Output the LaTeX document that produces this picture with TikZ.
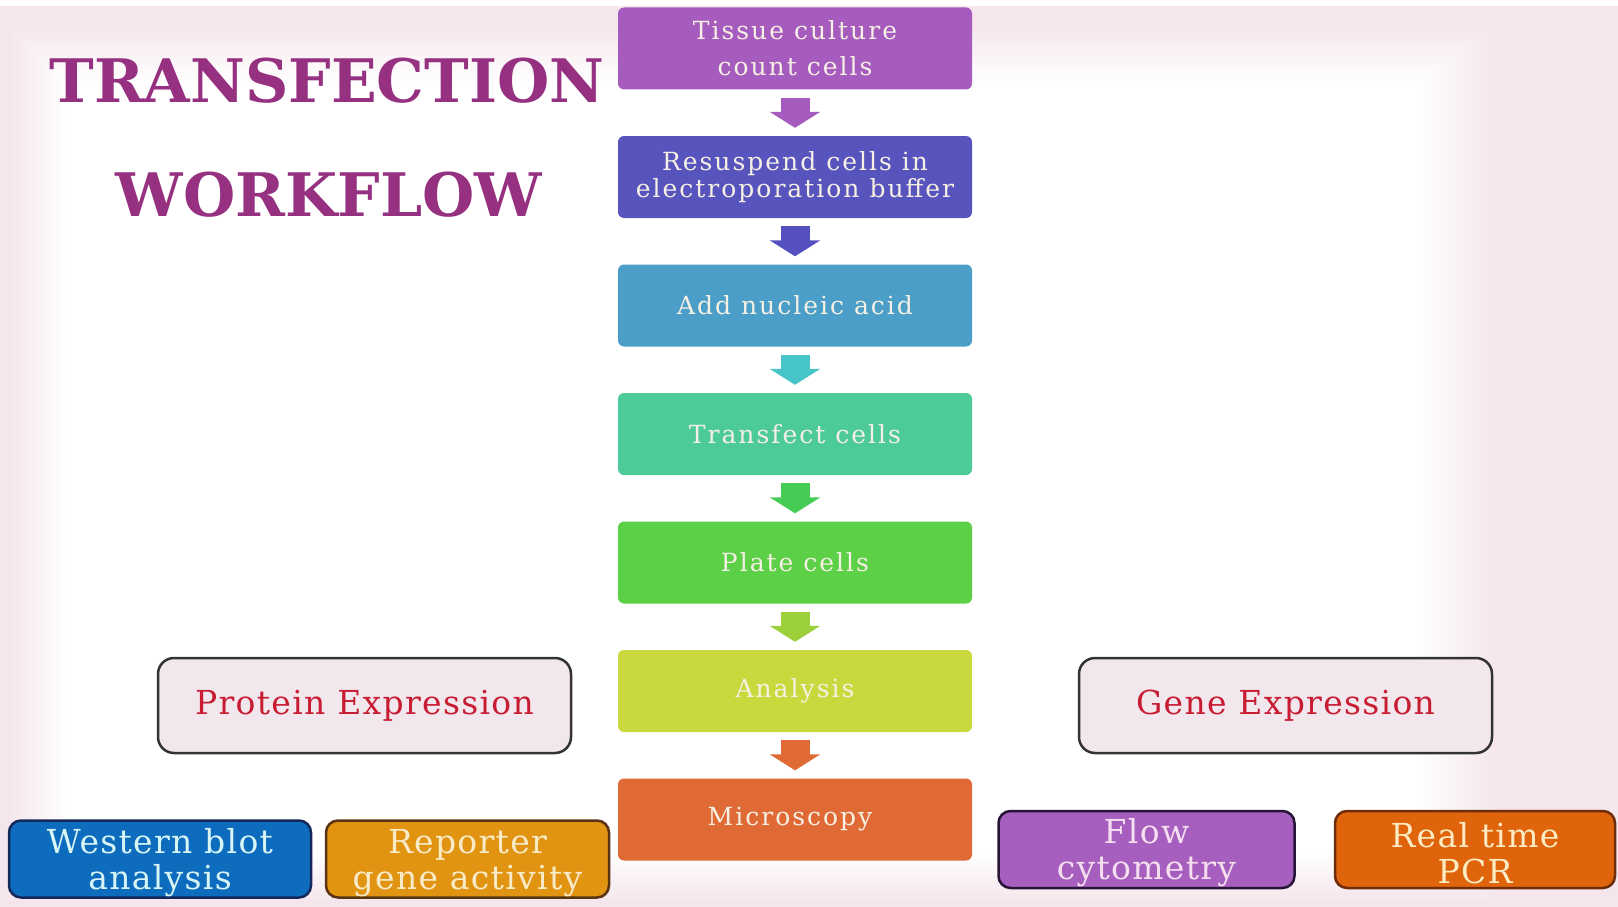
\documentclass[tikz,border=0pt]{standalone}
\usepackage{fontspec}
\setmainfont{DejaVu Serif}
\newfontfamily\stepfont[LetterSpace=8]{DejaVu Serif}
\newfontfamily\labelfont[LetterSpace=4]{DejaVu Serif}
\usepackage{xcolor}
\usetikzlibrary{arrows.meta}

\newcommand{\topgap}{\rule{0pt}{32pt}}

\definecolor{bgPink}{RGB}{244,230,236}
\definecolor{titlePlum}{RGB}{150,48,128}
\definecolor{stepText}{RGB}{246,240,228}
\definecolor{stepA}{RGB}{166,92,190}
\definecolor{stepB}{RGB}{88,84,190}
\definecolor{stepC}{RGB}{74,158,200}
\definecolor{stepD}{RGB}{76,203,152}
\definecolor{stepE}{RGB}{92,208,70}
\definecolor{stepF}{RGB}{201,217,61}
\definecolor{stepG}{RGB}{224,106,53}
\definecolor{arrA}{RGB}{166,92,190}
\definecolor{arrB}{RGB}{84,80,192}
\definecolor{arrC}{RGB}{70,196,200}
\definecolor{arrD}{RGB}{70,204,85}
\definecolor{arrE}{RGB}{156,208,58}
\definecolor{arrF}{RGB}{224,106,53}
\definecolor{groupFill}{RGB}{243,231,238}
\definecolor{groupText}{RGB}{200,28,50}
\definecolor{westernFill}{RGB}{14,108,190}
\definecolor{reporterFill}{RGB}{224,148,18}
\definecolor{flowFill}{RGB}{166,95,190}
\definecolor{pcrFill}{RGB}{224,100,12}

\begin{document}
\begin{tikzpicture}
[x=1pt, y=-1pt,
 stepDecorate/.style={shape=rectangle, rounded corners=6pt, minimum width=354pt, minimum height=82pt,
   inner sep=0pt, align=center, text=stepText, font=\stepfont\fontsize{25}{27}\selectfont},
 arrowDecorate/.style={line width=29pt, -{Triangle[length=16pt,width=50pt]}, shorten <=8pt, shorten >=8pt},
 groupDecorate/.style={shape=rectangle, rounded corners=16pt, minimum width=413pt, minimum height=95pt,
   draw=black!80, line width=2.5pt, fill=groupFill, text=groupText, font=\labelfont\fontsize{33}{34}\selectfont},
 methodDecorate/.style={shape=rectangle, rounded corners=12pt, minimum height=77pt, inner sep=0pt,
   line width=2.5pt, align=center, font=\labelfont\fontsize{33}{36}\selectfont}]

\useasboundingbox (0,0) rectangle (1618,907);

% background frame, pink fading to white
\fill[white] (0,0) rectangle (1618,907);
\fill[bgPink] (0,6) rectangle (1618,907);
\foreach \i in {0,...,19}
 {
  \pgfmathtruncatemacro\pct{95-5*\i}
  \fill[bgPink!\pct!white] (10+3*\i, 26+3*\i) rectangle (1495-4*\i, 900-2.5*\i);
 }

% title
\node (title1) at (327,81) [text=titlePlum, font=\fontsize{60}{64}\selectfont\bfseries] {TRANSFECTION};
\node (title2) at (329,195) [text=titlePlum, font=\fontsize{60}{64}\selectfont\bfseries] {WORKFLOW};

 \foreach \nodename/\y/\col/\txt in {
1/48.5/stepA/{Tissue culture\\[9pt]count cells},
2/177/stepB/{Resuspend cells in\\electroporation buffer},
3/305.5/stepC/{Add nucleic acid},
4/434/stepD/{Transfect cells},
5/562.5/stepE/{Plate cells},
6/691/stepF/{Analysis},
7/819.5/stepG/{Microscopy}
 }
 {
          \node (T\nodename) at (795,\y) [stepDecorate, fill=\col] {\txt};
 }

\path
\foreach \startnode/\endnode/\col in {1/2/arrA,2/3/arrB,3/4/arrC,4/5/arrD,5/6/arrE,6/7/arrF}
        {
          (T\startnode) edge[arrowDecorate, draw=\col] (T\endnode)
        };

% analysis groups
\node (protein) at (364.5,705.5) [groupDecorate] {Protein Expression};
\node (gene) at (1285.5,705.5) [groupDecorate] {Gene Expression};

\node (western) at (160,859) [methodDecorate, minimum width=302pt, fill=westernFill, text={rgb,255:red,215;green,245;blue,245}, draw={rgb,255:red,20;green,40;blue,90}] {\topgap Western blot\\analysis};
\node (reporter) at (467.5,859) [methodDecorate, minimum width=283pt, fill=reporterFill, text={rgb,255:red,250;green,235;blue,200}, draw={rgb,255:red,90;green,50;blue,20}] {\topgap Reporter\\gene activity};
\node (flow) at (1146.5,849.5) [methodDecorate, minimum width=296pt, fill=flowFill, text={rgb,255:red,245;green,222;blue,240}, draw={rgb,255:red,40;green,20;blue,55}] {\topgap Flow\\cytometry};
\node (pcr) at (1475,849.5) [methodDecorate, minimum width=280pt, fill=pcrFill, text={rgb,255:red,252;green,235;blue,195}, draw={rgb,255:red,110;green,45;blue,10}] {\topgap Real time\\PCR};
        \end{tikzpicture}
\end{document}
